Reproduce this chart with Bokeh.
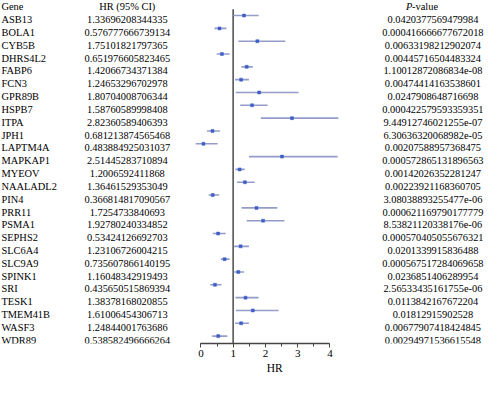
import numpy as np
from bokeh.plotting import figure
from bokeh.models import ColumnDataSource, Range1d, LinearAxis, SingleIntervalTicker, Title
from bokeh.core.properties import value
from bokeh.embed import file_html
from bokeh.resources import INLINE

# ---------------- data ----------------
genes = ["ASB13", "BOLA1", "CYB5B", "DHRS4L2", "FABP6", "FCN3", "GPR89B", "HSPB7", "ITPA",
         "JPH1", "LAPTM4A", "MAPKAP1", "MYEOV", "NAALADL2", "PIN4", "PRR11", "PSMA1", "SEPHS2",
         "SLC6A4", "SLC9A9", "SPINK1", "SRI", "TESK1", "TMEM41B", "WASF3", "WDR89"]

hr_labels = ["1.33696208344335", "0.576777666739134", "1.75101821797365", "0.651976605823465",
             "1.42066734371384", "1.24653296702978", "1.80704008706344", "1.58760589998408",
             "2.82360589406393", "0.681213874565468", "0.483884925031037", "2.51445283710894",
             "1.2006592411868", "1.36461529353049", "0.366814817090567", "1.7254733840693",
             "1.92780240334852", "0.53424126692703", "1.23106726004215", "0.735607866140195",
             "1.16048342919493", "0.435650515869394", "1.38378168020855", "1.61006454306713",
             "1.24844001763686", "0.538582496666264"]

p_labels = ["0.0420377569479984", "0.000416666677672018", "0.00633198212902074", "0.00445716504483324",
            "1.10012872086834e-08", "0.00474414163538601", "0.0247908648716698", "0.000422579593359351",
            "9.44912746021255e-07", "6.30636320068982e-05", "0.00207588957368475", "0.000572865131896563",
            "0.00142026352281247", "0.00223921168360705", "3.08038893255477e-06", "0.000621169790177779",
            "8.53821120338176e-06", "0.000570405055676321", "0.0201339915836488", "0.000567517284069658",
            "0.0236851406289954", "2.56533435161755e-06", "0.0113842167672204", "0.01812915902528",
            "0.00677907418424845", "0.00294971536615548"]

# plotted point estimates and CI ends as drawn in the picture
hr = [1.337, 0.577, 1.751, 0.652, 1.421, 1.247, 1.807, 1.588, 2.824,
      0.36, 0.08, 2.514, 1.201, 1.365, 0.367, 1.725, 1.928, 0.534,
      1.231, 0.736, 1.160, 0.436, 1.384, 1.610, 1.248, 0.539]
ci_low = [1.01, 0.42, 1.16, 0.49, 1.26, 1.06, 1.08, 1.22, 1.86,
          0.19, -0.16, 1.49, 1.07, 1.12, 0.24, 1.26, 1.42, 0.37,
          1.02, 0.62, 1.01, 0.29, 1.07, 1.09, 1.06, 0.35]
ci_high = [1.79, 0.79, 2.62, 0.89, 1.61, 1.49, 3.03, 2.07, 4.26,
           0.59, 0.52, 4.24, 1.36, 1.67, 0.57, 2.37, 2.59, 0.77,
           1.49, 0.89, 1.34, 0.64, 1.79, 2.41, 1.49, 0.82]

axis_bounds = (0, 4)

# ---------------- layout constants ----------------
W, H = 484, 378
SX, SY = 0.968, 0.959
AX0 = 207.0 * SX
AX4 = 340.3 * SX
PXU = (AX4 - AX0) / 4.0
ROW0 = 15.7 * SY
ROWH = 13.37 * SY
MBB = 35
FB = H - MBB

def dx(c):
    return (c - AX0) / PXU

def dy(c):
    return (c - ROW0) / ROWH

FONT = value("Liberation Serif")
FS = value("10.4px")
TEXT_DY = 4.3 * SY / ROWH

p = figure(width=W, height=H, output_backend="svg", toolbar_location=None,
           x_range=Range1d(dx(0), dx(W)), y_range=Range1d(dy(FB), dy(0)),
           x_axis_type=None, y_axis_type=None,
           min_border_left=0, min_border_right=0, min_border_top=0, min_border_bottom=MBB)
p.outline_line_color = None
p.background_fill_color = "white"
p.border_fill_color = "white"

rows = np.arange(len(genes))
src = ColumnDataSource(dict(gene=genes, hr_label=hr_labels, p_label=p_labels,
                            hr=hr, lo=ci_low, hi=ci_high, y=rows, ty=rows + TEXT_DY))

# reference line at HR = 1
p.segment(x0=[1], y0=[dy(9 * SY)], x1=[1], y1=[dy(FB + 2)], line_color="#4a4a4a", line_width=1.5)

# CI lines and points
p.segment(x0="lo", y0="y", x1="hi", y1="y", source=src, line_color="#959cc9", line_width=1.6)
p.scatter(x="hr", y="y", source=src, marker="square", size=3, fill_color="#3d5fc6",
          line_color="#3d5fc6", line_width=0.5)

# table texts
p.text(x=dx(1 * SX), y="ty", text="gene", source=src, text_align="left", text_baseline="middle",
       text_font=FONT, text_font_size=FS, text_color="black")
p.text(x=dx(131 * SX), y="ty", text="hr_label", source=src, text_align="center",
       text_baseline="middle", text_font=FONT, text_font_size=FS, text_color="black")
p.text(x=dx(446.7 * SX), y="ty", text="p_label", source=src, text_align="center",
       text_baseline="middle", text_font=FONT, text_font_size=FS, text_color="black")

# headers
HY = dy(6 * SY)
p.text(x=[dx(1 * SX)], y=[HY], text=["Gene"], text_align="left", text_baseline="middle",
       text_font=FONT, text_font_size=FS, text_color="black")
p.text(x=[dx(131 * SX)], y=[HY], text=["HR (95% CI)"], text_align="center", text_baseline="middle",
       text_font=FONT, text_font_size=FS, text_color="black")
p.text(x=[dx(405.5)], y=[HY], text=["P"], text_align="left", text_baseline="middle",
       text_font=FONT, text_font_size=FS, text_font_style="italic", text_color="black")
p.text(x=[dx(411.6)], y=[HY], text=["-value"], text_align="left", text_baseline="middle",
       text_font=FONT, text_font_size=FS, text_color="black")

# x axis
ax = LinearAxis(bounds=axis_bounds, ticker=SingleIntervalTicker(interval=1, num_minor_ticks=2))
ax.axis_line_color = "#444444"
ax.axis_line_width = 1.3
ax.major_tick_in = 0
ax.major_tick_out = 4
ax.minor_tick_in = 0
ax.minor_tick_out = 3
ax.major_tick_line_color = "#444444"
ax.minor_tick_line_color = "#444444"
ax.major_label_text_font = "Liberation Serif"
ax.major_label_text_font_size = "11px"
ax.major_label_text_color = "black"
ax.major_label_standoff = 2
p.add_layout(ax, "below")

# axis title "HR"
p.add_layout(Title(text="HR", align="left", offset=283.3 * SX - 8.0, standoff=0,
                   text_font="Liberation Serif", text_font_style="normal",
                   text_font_size="11.5px", text_color="black"), "below")

open("out.html", "w").write(file_html(p, INLINE))
